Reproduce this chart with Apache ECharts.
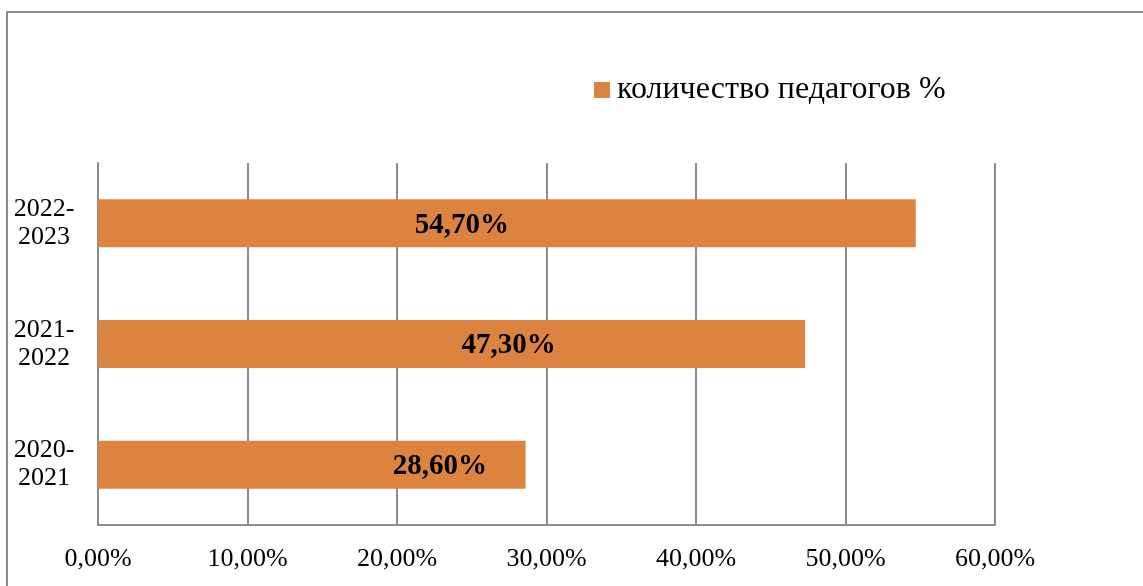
<!DOCTYPE html>
<html>
<head>
<meta charset="utf-8">
<script src="https://cdn.jsdelivr.net/npm/echarts@6/dist/echarts.min.js"></script>
<style>
html,body{margin:0;padding:0;background:#fff;}
#c{width:1143px;height:586px;}
</style>
</head>
<body>
<div id="c"></div>
<script>
const categories = ['2020-2021', '2021-2022', '2022-2023'];
const values = [28.6, 47.3, 54.7];
const seriesName = 'количество педагогов %';
const xTicks = [0, 10, 20, 30, 40, 50, 60];

// label horizontal shifts (style only), bottom-to-top
const labelShift = [128, 57, -45];

const fmt = v => v.toFixed(2).replace('.', ',') + '%';
const serif = '"Liberation Serif", "DejaVu Serif", serif';
const gray = '#8c8c8c';
const orange = '#DC843F';

const chart = echarts.init(document.getElementById('c'));
chart.setOption({
  animation: false,
  backgroundColor: '#fff',
  graphic: [{
    type: 'rect',
    shape: { x: 7, y: 12, width: 1300, height: 1000 },
    style: { fill: 'none', stroke: gray, lineWidth: 2 },
    silent: true
  }],
  legend: {
    data: [seriesName],
    left: 594,
    top: 74,
    padding: 0,
    itemWidth: 16,
    itemHeight: 16,
    itemGap: 4,
    icon: 'rect',
    textStyle: { fontFamily: serif, fontSize: 32, color: '#000', padding: [0, 0, 0, 2] }
  },
  grid: { left: 98, right: 148, top: 163, bottom: 61, containLabel: false },
  xAxis: {
    type: 'value',
    min: xTicks[0],
    max: xTicks[xTicks.length - 1],
    interval: 10,
    axisLine: { show: true, lineStyle: { color: gray, width: 2 } },
    axisTick: { show: false },
    splitLine: { show: true, lineStyle: { color: gray, width: 2 } },
    axisLabel: {
      formatter: v => fmt(v),
      fontFamily: serif, fontSize: 26, color: '#000', margin: 21
    }
  },
  yAxis: {
    type: 'category',
    data: categories,
    axisLine: { show: true, lineStyle: { color: gray, width: 2 } },
    axisTick: { show: false },
    axisLabel: {
      formatter: v => v.replace('-', '-\n'),
      fontFamily: serif, fontSize: 26, color: '#000',
      align: 'center', margin: 54, lineHeight: 28
    }
  },
  series: [{
    name: seriesName,
    type: 'bar',
    barWidth: 48,
    itemStyle: { color: orange },
    data: values.map((v, i) => ({
      value: v,
      label: { offset: [labelShift[i], 2] }
    })),
    label: {
      show: true,
      position: 'inside',
      formatter: p => fmt(p.value),
      fontFamily: serif, fontSize: 29, fontWeight: 'bold', color: '#000'
    }
  }]
});
</script>
</body>
</html>
